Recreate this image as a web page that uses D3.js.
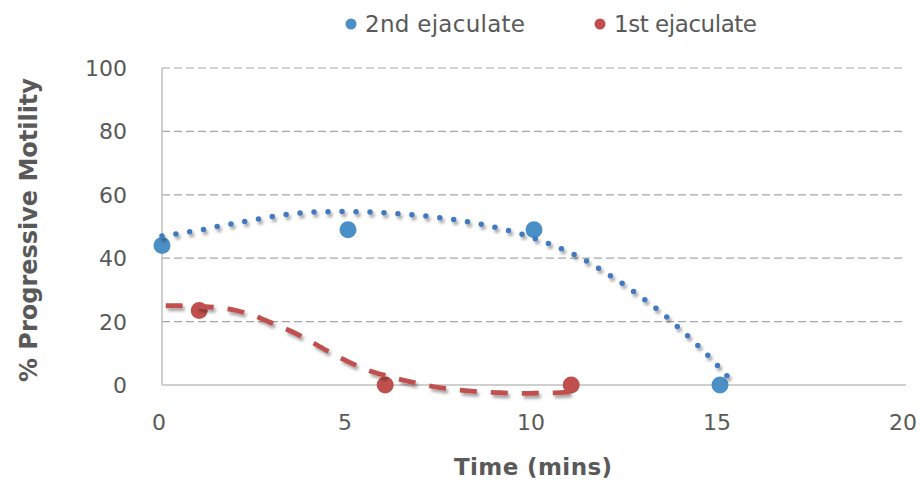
<!DOCTYPE html>
<html>
<head>
<meta charset="utf-8">
<script src="https://cdn.jsdelivr.net/npm/d3@7"></script>
<style>
  body { margin: 0; background: #fff; }
  svg { display: block; font-family: "DejaVu Sans", "Open Sans", sans-serif; }
</style>
</head>
<body>
<div id="chart"></div>
<script>
// observed points
const secondTimes = [0, 5, 10, 15];
const secondValues = [44, 49, 49, 0];
const firstTimes = [1, 6, 11];
const firstValues = [23.5, 0, 0];

// trendlines
const secondTrend = [
  [0, 47], [0.5, 47.9], [1, 48.8], [1.5, 50], [2, 51.1], [2.5, 52.2], [3, 53.2], [3.5, 54],
  [4, 54.5], [4.5, 54.7], [5, 54.7], [5.5, 54.6], [6, 54.3], [6.5, 53.9], [7, 53.4], [7.5, 52.7],
  [8, 51.9], [8.5, 50.9], [9, 49.6], [9.5, 48.2], [10, 46.3], [10.5, 44.1], [11, 41.6], [11.5, 38.5],
  [12, 34.9], [12.5, 31.0], [13, 26.7], [13.5, 22.1], [14, 16.9], [14.5, 11.4], [15, 5.3], [15.4, 0]
];
const firstTrend = [
  [0.1, 25], [0.5, 25], [1, 24.8], [1.5, 24.4], [2, 23.5], [2.5, 21.7], [3, 19.3], [3.5, 16.8],
  [4, 13.7], [4.5, 10.4], [5, 7.4], [5.5, 4.8], [6, 3.0], [6.5, 1.5], [7, 0.2], [7.5, -0.9],
  [8, -1.6], [8.5, -2.1], [9, -2.4], [9.5, -2.6], [10, -2.6], [10.5, -2.5], [11, -2.2]
];

const xTicks = [0, 5, 10, 15, 20];
const yTicks = [0, 20, 40, 60, 80, 100];
const seriesNames = ["2nd ejaculate", "1st ejaculate"];

const width = 920, height = 482;
const blue = "#4a8fc6", blueLine = "#4279bf", red = "#c0504d";
const textColor = "#595959";

const svg = d3.select("#chart").append("svg")
  .attr("width", width)
  .attr("height", height);

const defs = svg.append("defs");
const shadow = defs.append("filter")
  .attr("id", "shadow")
  .attr("x", "-10%").attr("y", "-10%")
  .attr("width", "130%").attr("height", "140%");
shadow.append("feDropShadow")
  .attr("dx", 2).attr("dy", 3)
  .attr("stdDeviation", 1.6)
  .attr("flood-color", "#000")
  .attr("flood-opacity", 0.35);

const x = d3.scaleLinear().domain([0, 20]).range([162, 906]);
const y = d3.scaleLinear().domain([0, 100]).range([385, 68]);

// gridlines
svg.append("g")
  .selectAll("line")
  .data(yTicks.filter(d => d > 0))
  .enter().append("line")
  .attr("x1", x(0)).attr("x2", x(20))
  .attr("y1", d => y(d)).attr("y2", d => y(d))
  .attr("stroke", "#a6a6a6")
  .attr("stroke-width", 1.2)
  .attr("stroke-dasharray", "8 4");

// axis lines
svg.append("line")
  .attr("x1", x(0)).attr("x2", x(20))
  .attr("y1", y(0)).attr("y2", y(0))
  .attr("stroke", "#bfbfbf").attr("stroke-width", 1.5);
svg.append("line")
  .attr("x1", x(0)).attr("x2", x(0))
  .attr("y1", y(0)).attr("y2", y(100))
  .attr("stroke", "#bfbfbf").attr("stroke-width", 1.5);

// tick labels
svg.append("g")
  .selectAll("text")
  .data(yTicks)
  .enter().append("text")
  .attr("x", 127)
  .attr("y", d => y(d))
  .attr("dy", "0.36em")
  .attr("text-anchor", "end")
  .attr("font-size", 22)
  .attr("fill", textColor)
  .text(d => d);

svg.append("g")
  .selectAll("text")
  .data(xTicks)
  .enter().append("text")
  .attr("x", d => x(d) - 3)
  .attr("y", 430)
  .attr("text-anchor", "middle")
  .attr("font-size", 22)
  .attr("fill", textColor)
  .text(d => d);

// axis titles
svg.append("text")
  .attr("x", 533)
  .attr("y", 475)
  .attr("text-anchor", "middle")
  .attr("font-size", 23)
  .attr("font-weight", "bold")
  .attr("fill", textColor)
  .attr("textLength", 158)
  .attr("lengthAdjust", "spacing")
  .text("Time (mins)");

svg.append("text")
  .attr("transform", `translate(37, 230) rotate(-90)`)
  .attr("text-anchor", "middle")
  .attr("font-size", 24)
  .attr("font-weight", "bold")
  .attr("fill", textColor)
  .attr("textLength", 304)
  .attr("lengthAdjust", "spacing")
  .text("% Progressive Motility");

// markers
svg.append("g")
  .selectAll("circle")
  .data(secondTimes.map((t, i) => [t, secondValues[i]]))
  .enter().append("circle")
  .attr("cx", d => x(d[0])).attr("cy", d => y(d[1]))
  .attr("r", 8.5)
  .attr("fill", blue);

svg.append("g")
  .selectAll("circle")
  .data(firstTimes.map((t, i) => [t, firstValues[i]]))
  .enter().append("circle")
  .attr("cx", d => x(d[0])).attr("cy", d => y(d[1]))
  .attr("r", 8.5)
  .attr("fill", red);

// trendlines on top
const line = d3.line()
  .x(d => x(d[0]))
  .y(d => y(d[1]))
  .curve(d3.curveCatmullRom);

svg.append("path")
  .datum(secondTrend)
  .attr("d", line)
  .attr("fill", "none")
  .attr("stroke", blueLine)
  .attr("stroke-width", 5.5)
  .attr("stroke-linecap", "round")
  .attr("stroke-dasharray", "0 14")
  .attr("filter", "url(#shadow)");

svg.append("path")
  .datum(firstTrend)
  .attr("d", line)
  .attr("fill", "none")
  .attr("stroke", red)
  .attr("stroke-width", 4.8)
  .attr("stroke-dasharray", "17 14")
  .attr("filter", "url(#shadow)");

// legend
const legend = svg.append("g");
const legendItems = [
  { name: seriesNames[0], color: blue, cx: 351, w: 160 },
  { name: seriesNames[1], color: red, cx: 600, w: 143 }
];
legendItems.forEach(item => {
  legend.append("circle")
    .attr("cx", item.cx).attr("cy", 24)
    .attr("r", 5.5)
    .attr("fill", item.color);
  legend.append("text")
    .attr("x", item.cx + 14)
    .attr("y", 24)
    .attr("dy", "0.36em")
    .attr("font-size", 23)
    .attr("fill", textColor)
    .attr("textLength", item.w)
    .attr("lengthAdjust", "spacing")
    .text(item.name);
});
</script>
</body>
</html>
